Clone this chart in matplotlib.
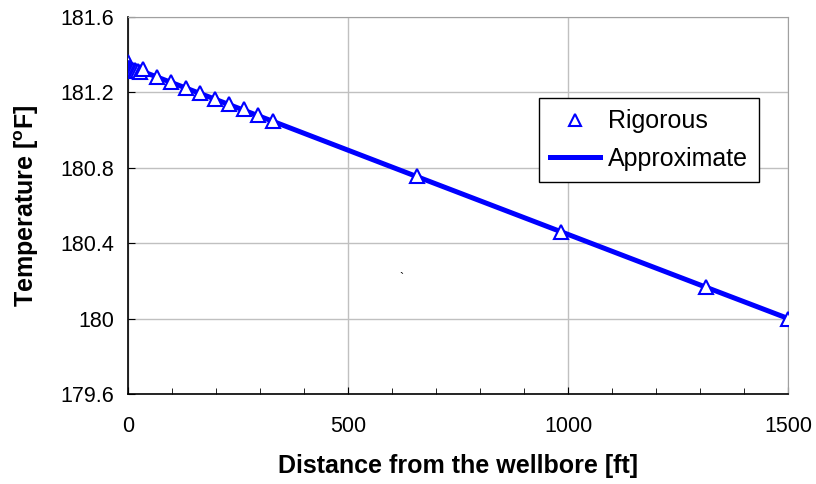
import matplotlib.pyplot as plt
from matplotlib.ticker import MultipleLocator, FormatStrFormatter

plt.rcParams['font.family'] = ['Liberation Sans', 'DejaVu Sans']
plt.rcParams['mathtext.fontset'] = 'custom'
plt.rcParams['mathtext.rm'] = 'Liberation Sans:bold'
plt.rcParams['mathtext.bf'] = 'Liberation Sans:bold'

# rigorous solution (triangles)
rig_x = [0, 1, 2, 3, 5, 7, 9, 12, 15, 18, 22, 26, 32.8, 65.6, 98.4, 131.2, 164.0,
         196.9, 229.7, 262.5, 295.3, 328.1, 656.2, 984.3, 1312.3, 1500]
rig_t = [181.36, 181.33, 181.33, 181.33, 181.325, 181.325, 181.32, 181.32, 181.32,
         181.315, 181.315, 181.31, 181.323, 181.279, 181.253, 181.221, 181.194,
         181.167, 181.137, 181.11, 181.079, 181.048, 180.754, 180.46, 180.17, 180.0]

# approximate solution (line)
app_x = [0, 328.1, 656.2, 984.3, 1312.3, 1500]
app_t = [181.34, 181.047, 180.753, 180.46, 180.167, 180.0]

fig = plt.figure(figsize=(8.16, 4.84), dpi=100)
ax = fig.add_axes([0.157, 0.186, 0.809, 0.779])

ax.plot(app_x, app_t, color="#0000ff", lw=3.6, label="Approximate", zorder=3)
ax.plot(rig_x, rig_t, ls="none", marker="^", ms=10, mfc="white", mec="#0000ff",
        mew=1.5, label="Rigorous", zorder=4)

ax.set_xlim(0, 1500)
ax.set_ylim(179.6, 181.6)
ax.xaxis.set_major_locator(MultipleLocator(500))
ax.xaxis.set_minor_locator(MultipleLocator(100))
ax.yaxis.set_major_locator(MultipleLocator(0.4))
ax.yaxis.set_major_formatter(FormatStrFormatter('%g'))
ax.tick_params(axis='both', which='both', direction='in', labelsize=15.5)
ax.tick_params(axis='x', which='major', length=5, pad=16)
ax.tick_params(axis='x', which='minor', length=4)
ax.tick_params(axis='y', length=5, pad=10)

ax.grid(True, which='major', color="#c0c0c0", lw=1)
ax.set_axisbelow(True)
ax.spines['top'].set_color("#a0a0a0")
ax.spines['right'].set_color("#a0a0a0")
for s in ['left', 'bottom']:
    ax.spines[s].set_linewidth(1.2)

ax.set_xlabel("Distance from the wellbore [ft]", fontsize=18, fontweight='bold', labelpad=12)
ax.set_ylabel(r"Temperature [$^{\mathrm{o}}$F]", fontsize=18, fontweight='bold', labelpad=14)

# small stray mark present in the original figure
ax.text(620, 180.21, "`", fontsize=9, ha='center', va='center')

h, l = ax.get_legend_handles_labels()
leg = ax.legend([h[1], h[0]], [l[1], l[0]], loc='upper right', bbox_to_anchor=(0.956, 0.785),
                borderaxespad=0, fontsize=18, fancybox=False, framealpha=1, edgecolor='black',
                handlelength=2.0, borderpad=0.45, labelspacing=0.55, handletextpad=0.3,
                markerscale=0.8)
leg.get_frame().set_linewidth(1.0)

fig.savefig("out.png", dpi=100)
